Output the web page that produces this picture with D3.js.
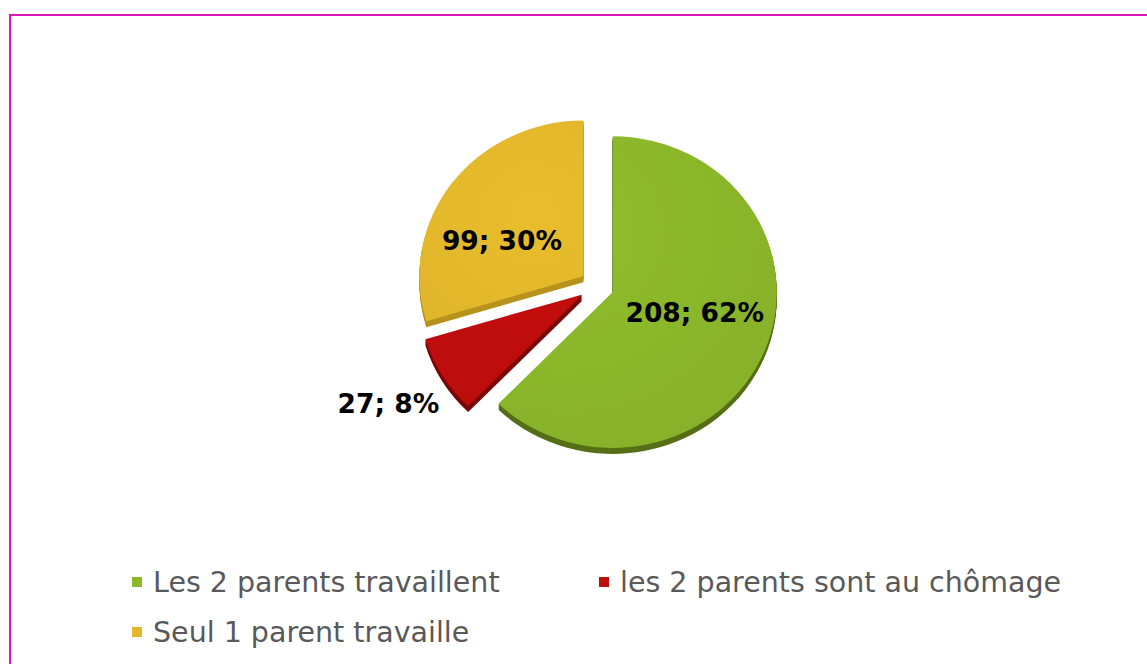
<!DOCTYPE html>
<html>
<head>
<meta charset="utf-8">
<script src="https://cdn.jsdelivr.net/npm/d3@7"></script>
<style>
  body { margin: 0; background: #fff; }
  svg { display: block; }
</style>
</head>
<body>
<script>
// Data
const categories = ["Les 2 parents travaillent", "les 2 parents sont au chômage", "Seul 1 parent travaille"];
const counts = [208, 27, 99];
const percents = [62, 8, 30];

// Styling
const topColors = ["#8cb92b", "#c00d0d", "#e2b82b"];
const sideColors = ["#566f17", "#7a0707", "#b8921c"];
const labelRadius = [0.5, 1.37, 0.55];
const labelNudge = [[6, -9], [-2, -2], [-9, 15]];

const width = 1147, height = 664;
const cx = 597, cy = 286, radius = 164, tilt = 0.95, depth = 6, explode = 17;

const svg = d3.select("body").append("svg")
  .attr("width", width)
  .attr("height", height);

// frame
svg.append("rect")
  .attr("x", 10).attr("y", 15)
  .attr("width", width + 20).attr("height", height + 20)
  .attr("fill", "none")
  .attr("stroke", "#d916c0")
  .attr("stroke-width", 2);

const data = categories.map((c, i) => ({ name: c, count: counts[i], pct: percents[i], i: i }));

const pie = d3.pie().sort(null).value(d => d.count);
const arcs = pie(data);
const arc = d3.arc().innerRadius(0).outerRadius(radius);

const defs = svg.append("defs");
arcs.forEach(a => {
  let g = defs.append("radialGradient")
    .attr("id", "grad" + a.data.i)
    .attr("gradientUnits", "userSpaceOnUse")
    .attr("cx", -radius * 0.3).attr("cy", -radius * 0.4)
    .attr("r", radius * 1.6);
  g.append("stop").attr("offset", "0%").attr("stop-color", d3.color(topColors[a.data.i]).brighter(0.08));
  g.append("stop").attr("offset", "100%").attr("stop-color", d3.color(topColors[a.data.i]).darker(0.12));
});

function sliceOffset(a) {
  let mid = (a.startAngle + a.endAngle) / 2;
  return [explode * Math.sin(mid), -explode * Math.cos(mid) * tilt];
}

const slices = svg.selectAll("g.slice")
  .data(arcs)
  .enter()
  .append("g")
  .attr("class", "slice")
  .attr("transform", d => {
    let o = sliceOffset(d);
    return `translate(${cx + o[0]},${cy + o[1]}) scale(1,${tilt})`;
  });

// sides first, then tops
const layers = d3.range(depth, 0, -1);
slices.each(function(d) {
  let g = d3.select(this);
  layers.forEach(k => {
    g.append("path")
      .attr("class", "side")
      .attr("d", arc(d))
      .attr("transform", `translate(0,${k / tilt})`)
      .attr("fill", sideColors[d.data.i]);
  });
});

slices.append("path")
  .attr("class", "top")
  .attr("d", arc)
  .attr("fill", d => `url(#grad${d.data.i})`);

// data labels
svg.selectAll("text.label")
  .data(arcs)
  .enter()
  .append("text")
  .attr("class", "label")
  .attr("x", d => {
    let mid = (d.startAngle + d.endAngle) / 2;
    return cx + sliceOffset(d)[0] + radius * labelRadius[d.data.i] * Math.sin(mid) + labelNudge[d.data.i][0];
  })
  .attr("y", d => {
    let mid = (d.startAngle + d.endAngle) / 2;
    return cy + sliceOffset(d)[1] - radius * labelRadius[d.data.i] * Math.cos(mid) * tilt + labelNudge[d.data.i][1];
  })
  .attr("text-anchor", "middle")
  .attr("dominant-baseline", "central")
  .attr("font-family", "DejaVu Sans, sans-serif")
  .attr("font-weight", "bold")
  .attr("font-size", 26.5)
  .attr("fill", "#000")
  .text(d => `${d.data.count}; ${d.data.pct}%`);

// legend
const legendPos = [[132, 592], [599, 592], [132, 642]];
const legend = svg.selectAll("g.legend")
  .data(data)
  .enter()
  .append("g")
  .attr("class", "legend")
  .attr("transform", d => `translate(${legendPos[d.i][0]},${legendPos[d.i][1]})`);

legend.append("rect")
  .attr("x", 0).attr("y", -15)
  .attr("width", 10).attr("height", 10)
  .attr("fill", d => topColors[d.i]);

legend.append("text")
  .attr("x", 21).attr("y", 0)
  .attr("font-family", "DejaVu Sans, sans-serif")
  .attr("font-size", 28.5)
  .attr("fill", "#595959")
  .text(d => d.name);
</script>
</body>
</html>
